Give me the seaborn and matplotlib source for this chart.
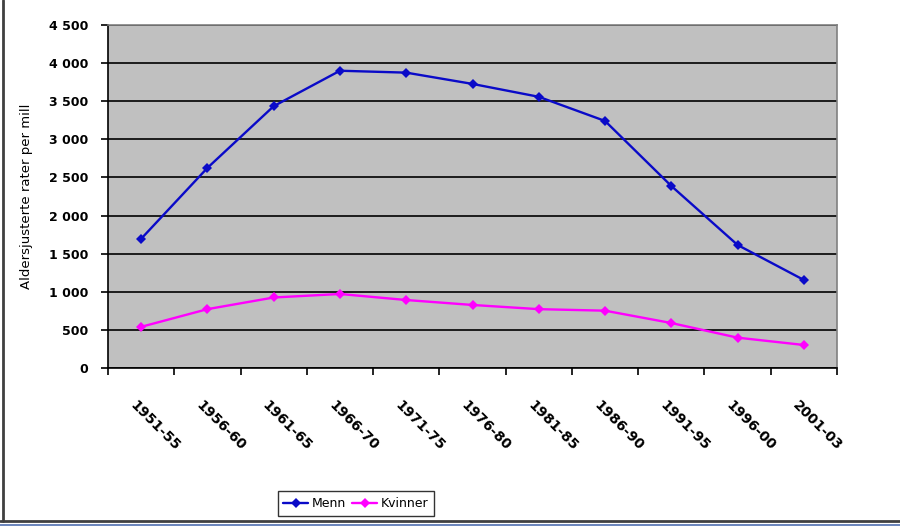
import matplotlib
matplotlib.use("Agg")
import matplotlib.pyplot as plt
import seaborn as sns
import pandas as pd
import numpy as np
from matplotlib.lines import Line2D
from matplotlib.ticker import FixedLocator, FuncFormatter
from matplotlib.transforms import ScaledTranslation

periods = ["1951-55", "1956-60", "1961-65", "1966-70", "1971-75", "1976-80",
           "1981-85", "1986-90", "1991-95", "1996-00", "2001-03"]
menn = [1695, 2625, 3435, 3900, 3875, 3727, 3558, 3241, 2388, 1614, 1155]
kvinner = [540, 772, 925, 971, 892, 827, 772, 752, 590, 398, 302]
series_names = ["Menn", "Kvinner"]
y_ticks = [0, 500, 1000, 1500, 2000, 2500, 3000, 3500, 4000, 4500]
y_label = "Aldersjusterte rater per mill"

sns.set_style("white")
plt.rcParams["font.family"] = ["DejaVu Sans"]
plt.rcParams["text.color"] = "black"
plt.rcParams["axes.labelcolor"] = "black"
plt.rcParams["xtick.color"] = "black"
plt.rcParams["ytick.color"] = "black"

df = pd.DataFrame({
    "periode": list(range(len(periods))) * 2,
    "verdi": menn + kvinner,
    "serie": [series_names[0]] * len(periods) + [series_names[1]] * len(periods),
})

fig = plt.figure(figsize=(9, 5.26), dpi=100)
ax = fig.add_axes([108 / 900, 1 - 368 / 526, (837 - 108) / 900, (368 - 25) / 526])
ax.set_facecolor("#C0C0C0")

palette = {"Menn": "#0A0AC8", "Kvinner": "#FF00FF"}
sns.lineplot(data=df, x="periode", y="verdi", hue="serie", palette=palette,
             marker="D", markersize=5.5, markeredgewidth=0, linewidth=1.7,
             ax=ax, legend=False, zorder=3)

ax.set_xlim(-0.5, len(periods) - 0.5)
ax.set_ylim(0, 4500)
ax.yaxis.set_major_locator(FixedLocator(y_ticks))
ax.yaxis.set_major_formatter(FuncFormatter(lambda v, p: f"{int(v):,}".replace(",", " ")))
ax.grid(axis="y", color="black", linewidth=1.2, zorder=1)
ax.set_axisbelow(True)

ax.set_xticks(range(len(periods)))
ax.set_xticks(np.arange(-0.5, len(periods), 1.0), minor=True)
ax.set_xticklabels(periods)
ax.tick_params(axis="x", which="both", bottom=True)
ax.tick_params(axis="y", which="both", left=True)
ax.tick_params(axis="x", which="major", length=0, pad=22, labelsize=10,
               labelcolor="black")
ax.tick_params(axis="x", which="minor", length=5, width=1.2, color="black", direction="out")
ax.tick_params(axis="y", which="major", length=5, width=1.2, color="black", direction="out",
               labelsize=9, pad=9, labelcolor="black")
for lab in ax.get_yticklabels():
    lab.set_fontweight("bold")
off = ScaledTranslation(-4 / 100, 0, fig.dpi_scale_trans)
for lab in ax.get_xticklabels():
    lab.set_rotation(-45)
    lab.set_ha("left")
    lab.set_va("top")
    lab.set_rotation_mode("anchor")
    lab.set_fontweight("bold")
    lab.set_transform(lab.get_transform() + off)

for side in ["top", "right"]:
    ax.spines[side].set_color("#808080")
    ax.spines[side].set_linewidth(1.2)
ax.spines["left"].set_color("black")
ax.spines["bottom"].set_color("black")
ax.spines["left"].set_linewidth(1.2)
ax.spines["bottom"].set_linewidth(1.2)

ax.set_xlabel("")
ax.set_ylabel(y_label, fontsize=9.5, color="black")
ax.yaxis.set_label_coords(-(108 - 33) / 729, 0.5)

handles = [Line2D([0], [0], color=palette[s], marker="D", markersize=5.5,
                  markeredgewidth=0, linewidth=1.7) for s in series_names]
leg = fig.legend(handles, series_names, loc="center",
                 bbox_to_anchor=(356 / 900, 1 - 503.5 / 526), ncol=2,
                 frameon=True, fancybox=False, edgecolor="black", fontsize=9,
                 handlelength=2.0, handletextpad=0.3, columnspacing=0.5,
                 borderpad=0.45, labelcolor="black")
leg.get_frame().set_linewidth(1.0)

# outer chart frame
fig.add_artist(Line2D([3 / 900, 3 / 900], [1 - 521 / 526, 1.0], color="#404040",
                      linewidth=2, transform=fig.transFigure))
fig.add_artist(Line2D([0, 1], [1 - 521 / 526, 1 - 521 / 526], color="#404040",
                      linewidth=2, transform=fig.transFigure))
fig.add_artist(Line2D([0, 1], [1 - 524.5 / 526, 1 - 524.5 / 526], color="#5070B0",
                      linewidth=1.2, transform=fig.transFigure))

fig.savefig("out.png", dpi=100)
